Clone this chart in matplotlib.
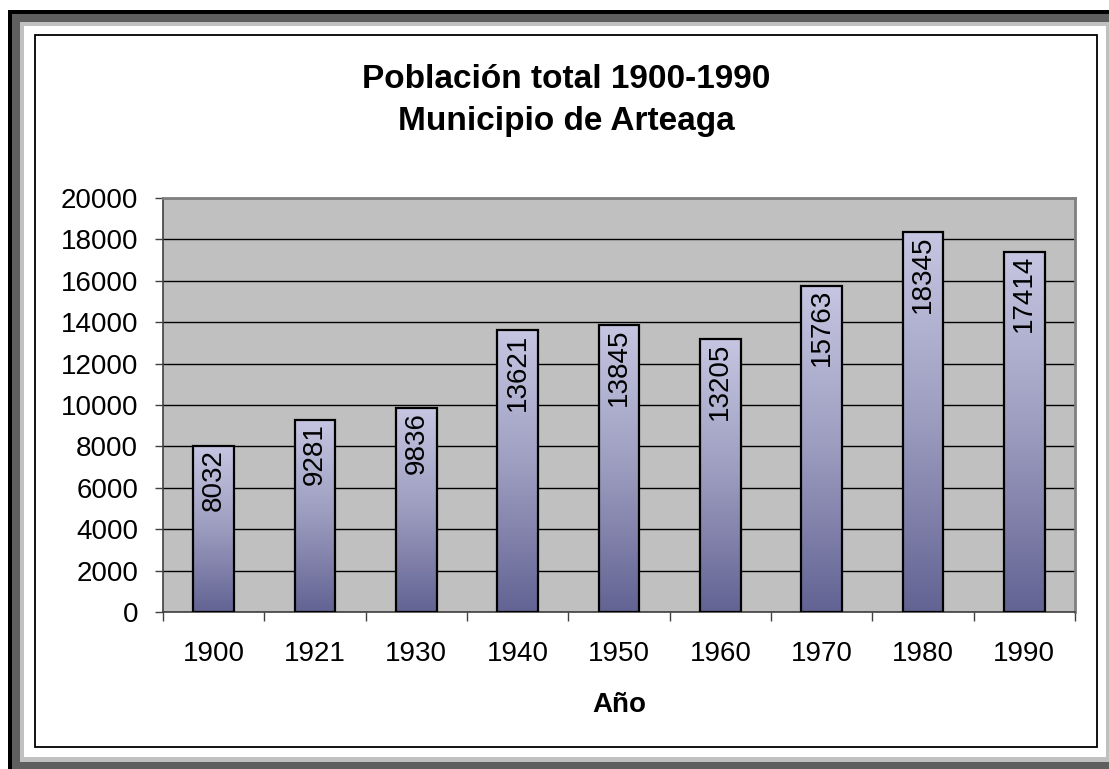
import matplotlib
matplotlib.use("Agg")
import matplotlib.pyplot as plt
from matplotlib.patches import Rectangle
from matplotlib.colors import LinearSegmentedColormap
import numpy as np

years = ["1900", "1921", "1930", "1940", "1950", "1960", "1970", "1980", "1990"]
population = [8032, 9281, 9836, 13621, 13845, 13205, 15763, 18345, 17414]
title_lines = ["Población total 1900-1990", "Municipio de Arteaga"]
x_label = "Año"

W, H = 1109, 769
plt.rcParams["font.family"] = ["Liberation Sans", "DejaVu Sans"]

fig = plt.figure(figsize=(W / 100, H / 100), dpi=100)


def box(x0, y0, x1, y1, **kw):
    # pixel box, y counted from the top of the picture
    return Rectangle((x0 / W, 1 - y1 / H), (x1 - x0) / W, (y1 - y0) / H,
                     transform=fig.transFigure, zorder=-5, **kw)


# frame around the chart
fig.patches.extend([
    box(8, 10, 1130, 790, fc="black", ec="none"),
    box(12, 14, 1130, 790, fc="#5f5f5f", ec="none"),
    box(20, 22, 1120, 762, fc="#c0c0c0", ec="none"),
    box(24, 26, 1106, 757, fc="white", ec="none"),
    box(35, 35, 1097, 747, fc="none", ec="black", lw=1.3),
])

ax = fig.add_axes([163 / W, 1 - 612 / H, (1075 - 163) / W, (612 - 198) / H])
ax.set_zorder(2)
ax.set_facecolor("#c0c0c0")
ax.set_axisbelow(True)

x = np.arange(len(years))
bars = ax.bar(x, population, width=0.4, color="none", edgecolor="black",
              linewidth=1.6, zorder=3)

cmap = LinearSegmentedColormap.from_list("bar", ["#636394", "#9c9cbf", "#c6c6e2"])
grad = np.linspace(0, 1, 256).reshape(-1, 1)
for b in bars:
    x0 = b.get_x()
    im = ax.imshow(grad, cmap=cmap, origin="lower", aspect="auto",
                   extent=[x0, x0 + b.get_width(), 0, b.get_height()], zorder=2.5)
    im.set_clip_path(b)

for i, v in enumerate(population):
    ax.annotate(str(v), (i, v), xytext=(0, -2.5), textcoords="offset points",
                rotation=90, ha="center", va="top", fontsize=20, zorder=4)

ax.set_xlim(-0.5, len(years) - 0.5)
ax.set_ylim(0, 20000)
ax.set_yticks(np.arange(0, 20001, 2000))
ax.grid(axis="y", color="black", linewidth=1)

ax.set_xticks(np.arange(-0.5, len(years), 1))
ax.set_xticklabels([])
ax.set_xticks(x, minor=True)
ax.set_xticklabels(years, minor=True)
ax.tick_params(axis="x", which="major", length=6.5, color="#404040", width=1)
ax.tick_params(axis="x", which="minor", length=0, pad=21, labelsize=20)
ax.tick_params(axis="y", length=6, color="#404040", width=1, pad=12, labelsize=20)

for s in ["top", "right"]:
    ax.spines[s].set_color("#808080")
    ax.spines[s].set_linewidth(2)
for s in ["left", "bottom"]:
    ax.spines[s].set_color("#404040")
    ax.spines[s].set_linewidth(1.2)

fig.text(566 / W, 1 - 88 / H, title_lines[0], ha="center", va="baseline",
         fontsize=24, fontweight="bold")
fig.text(566 / W, 1 - 130 / H, title_lines[1], ha="center", va="baseline",
         fontsize=24, fontweight="bold")
fig.text(619 / W, 1 - 712 / H, x_label, ha="center", va="baseline",
         fontsize=20, fontweight="bold")

fig.savefig("out.png", dpi=100)
